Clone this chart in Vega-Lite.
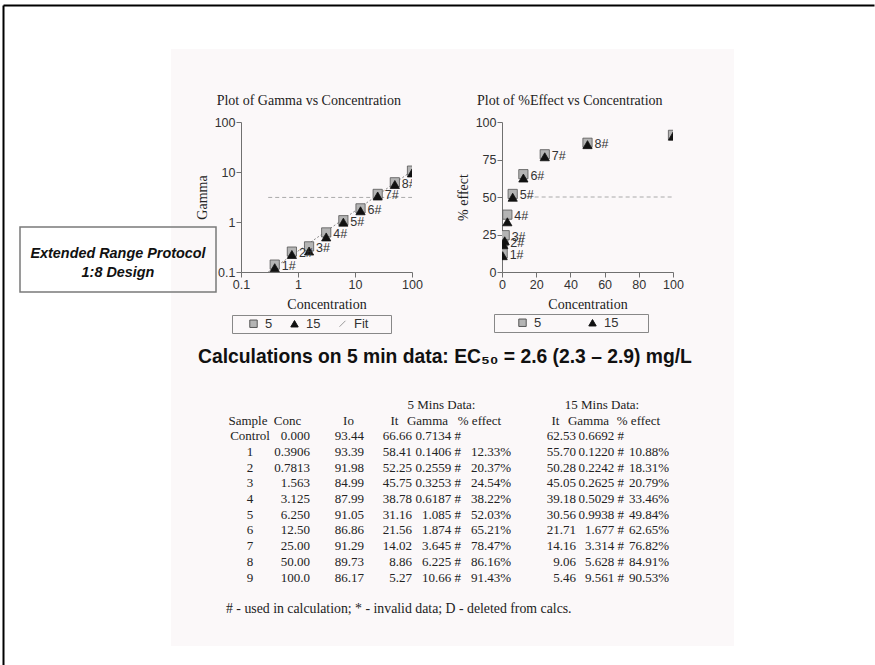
{
  "$schema": "https://vega.github.io/schema/vega-lite/v6.json",
  "background": "white",
  "padding": {"left": 3, "top": 5, "right": 0, "bottom": 0},
  "config": {
    "view": {"stroke": null},
    "font": "Liberation Serif",
    "axis": {
      "domainColor": "#707070", "tickColor": "#707070", "tickSize": 5,
      "labelFont": "Liberation Sans", "labelFontSize": 12.5, "labelColor": "#333333", "labelPadding": 1,
      "labelFlush": false, "labelOverlap": false,
      "titleFont": "Liberation Serif", "titleFontSize": 14, "titleFontWeight": "normal", "titleColor": "#222222",
      "grid": false
    },
    "legend": {"labelFont": "Liberation Sans", "labelFontSize": 13, "labelColor": "#333333"},
    "title": {"font": "Liberation Serif", "fontSize": 14, "fontWeight": "normal", "color": "#222222"}
  },
  "datasets": {
    "points": [
      {"series": "5", "conc": 0.3906, "gamma": 0.1406, "effect": 12.33, "label": "1#"},
      {"series": "5", "conc": 0.7813, "gamma": 0.2559, "effect": 20.37, "label": "2#"},
      {"series": "5", "conc": 1.563, "gamma": 0.3253, "effect": 24.54, "label": "3#"},
      {"series": "5", "conc": 3.125, "gamma": 0.6187, "effect": 38.22, "label": "4#"},
      {"series": "5", "conc": 6.25, "gamma": 1.085, "effect": 52.03, "label": "5#"},
      {"series": "5", "conc": 12.5, "gamma": 1.874, "effect": 65.21, "label": "6#"},
      {"series": "5", "conc": 25, "gamma": 3.645, "effect": 78.47, "label": "7#"},
      {"series": "5", "conc": 50, "gamma": 6.225, "effect": 86.16, "label": "8#"},
      {"series": "5", "conc": 100, "gamma": 10.66, "effect": 91.43, "label": "9#"},
      {"series": "15", "conc": 0.3906, "gamma": 0.122, "effect": 10.88, "label": ""},
      {"series": "15", "conc": 0.7813, "gamma": 0.2242, "effect": 18.31, "label": ""},
      {"series": "15", "conc": 1.563, "gamma": 0.2625, "effect": 20.79, "label": ""},
      {"series": "15", "conc": 3.125, "gamma": 0.5029, "effect": 33.46, "label": ""},
      {"series": "15", "conc": 6.25, "gamma": 0.9938, "effect": 49.84, "label": ""},
      {"series": "15", "conc": 12.5, "gamma": 1.677, "effect": 62.65, "label": ""},
      {"series": "15", "conc": 25, "gamma": 3.314, "effect": 76.82, "label": ""},
      {"series": "15", "conc": 50, "gamma": 5.628, "effect": 84.91, "label": ""},
      {"series": "15", "conc": 100, "gamma": 9.561, "effect": 90.53, "label": ""}
    ],
    "fit": [
      {"conc": 0.3, "gamma": 0.1},
      {"conc": 100, "gamma": 10.5}
    ],
    "gammaRef": [
      {"x0": 0.3, "x1": 100, "gamma": 3.1}
    ],
    "effectRef": [
      {"x0": 15, "x1": 100, "effect": 50}
    ],
    "table": [
      {"sample": "Control", "conc": "0.000", "io": "93.44", "it5": "66.66", "g5": "0.7134 #", "e5": "", "it15": "62.53", "g15": "0.6692 #", "e15": ""},
      {"sample": "1", "conc": "0.3906", "io": "93.39", "it5": "58.41", "g5": "0.1406 #", "e5": "12.33%", "it15": "55.70", "g15": "0.1220 #", "e15": "10.88%"},
      {"sample": "2", "conc": "0.7813", "io": "91.98", "it5": "52.25", "g5": "0.2559 #", "e5": "20.37%", "it15": "50.28", "g15": "0.2242 #", "e15": "18.31%"},
      {"sample": "3", "conc": "1.563", "io": "84.99", "it5": "45.75", "g5": "0.3253 #", "e5": "24.54%", "it15": "45.05", "g15": "0.2625 #", "e15": "20.79%"},
      {"sample": "4", "conc": "3.125", "io": "87.99", "it5": "38.78", "g5": "0.6187 #", "e5": "38.22%", "it15": "39.18", "g15": "0.5029 #", "e15": "33.46%"},
      {"sample": "5", "conc": "6.250", "io": "91.05", "it5": "31.16", "g5": "1.085 #", "e5": "52.03%", "it15": "30.56", "g15": "0.9938 #", "e15": "49.84%"},
      {"sample": "6", "conc": "12.50", "io": "86.86", "it5": "21.56", "g5": "1.874 #", "e5": "65.21%", "it15": "21.71", "g15": "1.677 #", "e15": "62.65%"},
      {"sample": "7", "conc": "25.00", "io": "91.29", "it5": "14.02", "g5": "3.645 #", "e5": "78.47%", "it15": "14.16", "g15": "3.314 #", "e15": "76.82%"},
      {"sample": "8", "conc": "50.00", "io": "89.73", "it5": "8.86", "g5": "6.225 #", "e5": "86.16%", "it15": "9.06", "g15": "5.628 #", "e15": "84.91%"},
      {"sample": "9", "conc": "100.0", "io": "86.17", "it5": "5.27", "g5": "10.66 #", "e5": "91.43%", "it15": "5.46", "g15": "9.561 #", "e15": "90.53%"}
    ]
  },
  "columns": 2,
  "align": "none",
  "bounds": "flush",
  "spacing": -714,
  "concat": [
    {
      "width": 563, "height": 597,
      "view": {"fill": "#fbf8f9", "stroke": null},
      "data": {"values": []},
      "mark": {"type": "point", "opacity": 0},
      "encoding": {
        "x": {"datum": 0, "type": "quantitative", "scale": {"domain": [0, 1], "range": [-168, 703], "nice": false, "zero": false},
              "axis": {"orient": "top", "offset": 44, "domainColor": "#000000", "domainWidth": 2, "ticks": false, "labels": false, "title": null}},
        "y": {"datum": 0, "type": "quantitative", "scale": {"domain": [0, 1], "range": [-44, 620], "nice": false, "zero": false},
              "axis": {"orient": "left", "offset": 168, "domainColor": "#000000", "domainWidth": 2, "ticks": false, "labels": false, "title": null}}
      }
    },
    {
      "columns": 1,
      "align": "none",
      "bounds": "flush",
      "spacing": 0,
      "concat": [
        {"width": 1, "height": 73, "data": {"values": []}, "mark": "point", "encoding": {}},
        {
          "columns": 4,
          "align": "none",
          "bounds": "flush",
          "spacing": 0,
          "resolve": {
            "scale": {"color": "independent", "shape": "independent", "stroke": "independent"},
            "legend": {"color": "independent", "shape": "independent", "stroke": "independent"}
          },
          "concat": [
            {"width": 221, "height": 1, "data": {"values": []}, "mark": "point", "encoding": {}},
            {
              "width": 171, "height": 150,
              "title": {"text": "Plot of Gamma vs Concentration", "frame": "bounds", "anchor": "middle", "offset": 8},
              "layer": [
                {
                  "data": {"name": "gammaRef"},
                  "mark": {"type": "rule", "color": "#aaaaaa", "strokeDash": [4, 3]},
                  "encoding": {
                    "x": {"field": "x0", "type": "quantitative", "scale": {"type": "log", "domain": [0.1, 100], "nice": false},
                          "axis": {"values": [0.1, 1, 10, 100], "tickCount": 20, "format": "~g", "title": "Concentration", "titlePadding": 7}},
                    "x2": {"field": "x1"},
                    "y": {"field": "gamma", "type": "quantitative", "scale": {"type": "log", "domain": [0.1, 100], "nice": false},
                          "axis": {"values": [0.1, 1, 10, 100], "tickCount": 20, "format": "~g", "title": "Gamma", "titlePadding": 5}}
                  }
                },
                {
                  "data": {"name": "fit"},
                  "mark": {"type": "line", "color": "#8a8a8a", "strokeWidth": 1, "strokeDash": [2, 2], "clip": true},
                  "encoding": {
                    "x": {"field": "conc", "type": "quantitative"},
                    "y": {"field": "gamma", "type": "quantitative"}
                  }
                },
                {
                  "data": {"name": "points"},
                  "mark": {"type": "point", "filled": true, "size": 85, "strokeWidth": 0.8, "opacity": 1, "clip": true},
                  "encoding": {
                    "x": {"field": "conc", "type": "quantitative"},
                    "y": {"field": "gamma", "type": "quantitative"},
                    "shape": {"field": "series", "type": "nominal", "scale": {"domain": ["5", "15", "Fit"], "range": ["square", "triangle-up", "M-0.8,0.8L0.8,-0.8"]},
                              "legend": {"orient": "none", "legendX": -9, "legendY": 193, "direction": "horizontal", "title": " ", "titleOrient": "left", "titlePadding": 13, "strokeColor": "#888888", "padding": 2, "columnPadding": 15, "gridAlign": "each", "symbolSize": 55, "symbolStrokeWidth": 1, "labelOffset": 5,
                                         "labelExpr": "datum.label == 'Fit' ? 'Fit\u2800\u2800' : datum.label"}},
                    "color": {"field": "series", "type": "nominal", "scale": {"domain": ["5", "15", "Fit"], "range": ["#b4b4b4", "#111111", "#ffffff"]}},
                    "stroke": {"field": "series", "type": "nominal", "scale": {"domain": ["5", "15", "Fit"], "range": ["#555555", "#111111", "#999999"]}}
                  }
                },
                {
                  "data": {"name": "points"},
                  "transform": [{"filter": "datum.series == '5'"}],
                  "mark": {"type": "text", "align": "left", "dx": 7, "dy": 1.5, "font": "Liberation Sans", "fontSize": 12.5, "color": "#333333", "clip": true},
                  "encoding": {
                    "x": {"field": "conc", "type": "quantitative"},
                    "y": {"field": "gamma", "type": "quantitative"},
                    "text": {"field": "label"}
                  }
                }
              ]
            },
            {"width": 90, "height": 1, "data": {"values": []}, "mark": "point", "encoding": {}},
            {
              "width": 171, "height": 150,
              "title": {"text": "Plot of %Effect vs Concentration", "frame": "bounds", "anchor": "middle", "offset": 8},
              "layer": [
                {
                  "data": {"name": "effectRef"},
                  "mark": {"type": "rule", "color": "#aaaaaa", "strokeDash": [4, 3]},
                  "encoding": {
                    "x": {"field": "x0", "type": "quantitative", "scale": {"domain": [0, 100], "nice": false},
                          "axis": {"values": [0, 20, 40, 60, 80, 100], "tickCount": 20, "format": "d", "title": "Concentration", "titlePadding": 7}},
                    "x2": {"field": "x1"},
                    "y": {"field": "effect", "type": "quantitative", "scale": {"domain": [0, 100], "nice": false},
                          "axis": {"values": [0, 25, 50, 75, 100], "tickCount": 20, "format": "d", "title": "% effect", "titlePadding": 5}}
                  }
                },
                {
                  "data": {"name": "points"},
                  "mark": {"type": "point", "filled": true, "size": 85, "strokeWidth": 0.8, "opacity": 1, "clip": true},
                  "encoding": {
                    "x": {"field": "conc", "type": "quantitative"},
                    "y": {"field": "effect", "type": "quantitative"},
                    "shape": {"field": "series", "type": "nominal", "scale": {"domain": ["5", "15"], "range": ["square", "triangle-up"]},
                              "legend": {"orient": "none", "legendX": -8, "legendY": 192, "direction": "horizontal", "title": " ", "titleOrient": "left", "titlePadding": 20, "strokeColor": "#888888", "padding": 2, "columnPadding": 44, "gridAlign": "each", "symbolSize": 55, "symbolStrokeWidth": 1, "labelOffset": 5,
                                         "labelExpr": "datum.label == '15' ? '15\u00a0\u00a0\u2800\u2800' : datum.label"}},
                    "color": {"field": "series", "type": "nominal", "scale": {"domain": ["5", "15"], "range": ["#b4b4b4", "#111111"]}},
                    "stroke": {"field": "series", "type": "nominal", "scale": {"domain": ["5", "15"], "range": ["#555555", "#111111"]}}
                  }
                },
                {
                  "data": {"name": "points"},
                  "transform": [{"filter": "datum.series == '5'"}],
                  "mark": {"type": "text", "align": "left", "dx": 7, "dy": 1.5, "font": "Liberation Sans", "fontSize": 12.5, "color": "#333333", "clip": true},
                  "encoding": {
                    "x": {"field": "conc", "type": "quantitative"},
                    "y": {"field": "effect", "type": "quantitative"},
                    "text": {"field": "label"}
                  }
                }
              ]
            }
          ]
        },
        {"width": 1, "height": 105, "data": {"values": []}, "mark": "point", "encoding": {}},
        {
          "width": 196, "height": 65,
          "view": {"stroke": "#7a7a7a", "strokeWidth": 1.5},
          "data": {"values": [{}]},
          "mark": {"type": "text", "text": ["Extended Range Protocol", "1:8 Design"], "font": "Liberation Sans", "fontSize": 14.4, "fontWeight": "bold", "fontStyle": "italic", "lineHeight": 19, "dy": -6, "color": "#111111"}
        },
        {"width": 1, "height": 50, "data": {"values": []}, "mark": "point", "encoding": {}},
        {
          "width": 850, "height": 30,
          "data": {"values": [{}]},
          "mark": {"type": "text", "text": "Calculations on 5 min data: EC₅₀ = 2.6 (2.3 – 2.9) mg/L", "font": "Liberation Sans", "fontSize": 19.3, "fontWeight": "bold", "color": "#111111"}
        },
        {"width": 1, "height": 25, "data": {"values": []}, "mark": "point", "encoding": {}},
        {
          "columns": 10,
          "align": "none",
          "bounds": "flush",
          "spacing": 0,
          "concat": [
            {"width": 206, "height": 1, "data": {"values": []}, "mark": "point", "encoding": {}},
            {
              "width": 48, "height": 219.8,
              "layer": [
                {"data": {"name": "table"}, "mark": {"type": "text", "font": "Liberation Serif", "fontSize": 13, "color": "#222222"},
                 "encoding": {"y": {"field": "sample", "type": "ordinal", "scale": {"type": "point", "domain": ["grp", "hdr", "Control", "1", "2", "3", "4", "5", "6", "7", "8", "9", "b1", "foot"], "padding": 0.5}, "axis": null}, "text": {"field": "sample"}}},
                {"data": {"values": [{}]}, "mark": {"type": "text", "font": "Liberation Serif", "fontSize": 13, "color": "#222222", "dx": -2, "text": "Sample"},
                 "encoding": {"y": {"datum": "hdr", "type": "ordinal"}}},
                {"data": {"values": [{}]}, "mark": {"type": "text", "font": "Liberation Serif", "fontSize": 13.8, "color": "#222222", "align": "left", "dx": -24, "text": "# - used in calculation; * - invalid data; D - deleted from calcs."},
                 "encoding": {"y": {"datum": "foot", "type": "ordinal"}}}
              ]
            },
            {
              "width": 36, "height": 219.8,
              "layer": [
                {"data": {"name": "table"}, "mark": {"type": "text", "font": "Liberation Serif", "fontSize": 13, "color": "#222222", "align": "right"},
                 "encoding": {"x": {"value": "width"}, "y": {"field": "sample", "type": "ordinal", "scale": {"type": "point", "domain": ["grp", "hdr", "Control", "1", "2", "3", "4", "5", "6", "7", "8", "9", "b1", "foot"], "padding": 0.5}, "axis": null}, "text": {"field": "conc"}}},
                {"data": {"values": [{}]}, "mark": {"type": "text", "font": "Liberation Serif", "fontSize": 13, "color": "#222222", "align": "center", "dx": -22.5, "text": "Conc"},
                 "encoding": {"x": {"value": "width"}, "y": {"datum": "hdr", "type": "ordinal"}}}
              ]
            },
            {
              "width": 54, "height": 219.8,
              "layer": [
                {"data": {"name": "table"}, "mark": {"type": "text", "font": "Liberation Serif", "fontSize": 13, "color": "#222222", "align": "right"},
                 "encoding": {"x": {"value": "width"}, "y": {"field": "sample", "type": "ordinal", "scale": {"type": "point", "domain": ["grp", "hdr", "Control", "1", "2", "3", "4", "5", "6", "7", "8", "9", "b1", "foot"], "padding": 0.5}, "axis": null}, "text": {"field": "io"}}},
                {"data": {"values": [{}]}, "mark": {"type": "text", "font": "Liberation Serif", "fontSize": 13, "color": "#222222", "align": "center", "dx": -15.5, "text": "Io"},
                 "encoding": {"x": {"value": "width"}, "y": {"datum": "hdr", "type": "ordinal"}}}
              ]
            },
            {
              "width": 48, "height": 219.8,
              "layer": [
                {"data": {"name": "table"}, "mark": {"type": "text", "font": "Liberation Serif", "fontSize": 13, "color": "#222222", "align": "right"},
                 "encoding": {"x": {"value": "width"}, "y": {"field": "sample", "type": "ordinal", "scale": {"type": "point", "domain": ["grp", "hdr", "Control", "1", "2", "3", "4", "5", "6", "7", "8", "9", "b1", "foot"], "padding": 0.5}, "axis": null}, "text": {"field": "it5"}}},
                {"data": {"values": [{}]}, "mark": {"type": "text", "font": "Liberation Serif", "fontSize": 13, "color": "#222222", "align": "center", "dx": -17.5, "text": "It"},
                 "encoding": {"x": {"value": "width"}, "y": {"datum": "hdr", "type": "ordinal"}}}
              ]
            },
            {
              "width": 49, "height": 219.8,
              "layer": [
                {"data": {"name": "table"}, "mark": {"type": "text", "font": "Liberation Serif", "fontSize": 13, "color": "#222222", "align": "right"},
                 "encoding": {"x": {"value": "width"}, "y": {"field": "sample", "type": "ordinal", "scale": {"type": "point", "domain": ["grp", "hdr", "Control", "1", "2", "3", "4", "5", "6", "7", "8", "9", "b1", "foot"], "padding": 0.5}, "axis": null}, "text": {"field": "g5"}}},
                {"data": {"values": [{}]}, "mark": {"type": "text", "font": "Liberation Serif", "fontSize": 13, "color": "#222222", "align": "center", "dx": -33.5, "text": "Gamma"},
                 "encoding": {"x": {"value": "width"}, "y": {"datum": "hdr", "type": "ordinal"}}},
                {"data": {"values": [{}]}, "mark": {"type": "text", "font": "Liberation Serif", "fontSize": 13, "color": "#222222", "align": "center", "dx": -19.5, "text": "5 Mins Data:"},
                 "encoding": {"x": {"value": "width"}, "y": {"datum": "grp", "type": "ordinal"}}}
              ]
            },
            {
              "width": 50, "height": 219.8,
              "layer": [
                {"data": {"name": "table"}, "mark": {"type": "text", "font": "Liberation Serif", "fontSize": 13, "color": "#222222", "align": "right"},
                 "encoding": {"x": {"value": "width"}, "y": {"field": "sample", "type": "ordinal", "scale": {"type": "point", "domain": ["grp", "hdr", "Control", "1", "2", "3", "4", "5", "6", "7", "8", "9", "b1", "foot"], "padding": 0.5}, "axis": null}, "text": {"field": "e5"}}},
                {"data": {"values": [{}]}, "mark": {"type": "text", "font": "Liberation Serif", "fontSize": 13, "color": "#222222", "align": "center", "dx": -31.5, "text": "% effect"},
                 "encoding": {"x": {"value": "width"}, "y": {"datum": "hdr", "type": "ordinal"}}}
              ]
            },
            {
              "width": 65, "height": 219.8,
              "layer": [
                {"data": {"name": "table"}, "mark": {"type": "text", "font": "Liberation Serif", "fontSize": 13, "color": "#222222", "align": "right"},
                 "encoding": {"x": {"value": "width"}, "y": {"field": "sample", "type": "ordinal", "scale": {"type": "point", "domain": ["grp", "hdr", "Control", "1", "2", "3", "4", "5", "6", "7", "8", "9", "b1", "foot"], "padding": 0.5}, "axis": null}, "text": {"field": "it15"}}},
                {"data": {"values": [{}]}, "mark": {"type": "text", "font": "Liberation Serif", "fontSize": 13, "color": "#222222", "align": "center", "dx": -20.5, "text": "It"},
                 "encoding": {"x": {"value": "width"}, "y": {"datum": "hdr", "type": "ordinal"}}}
              ]
            },
            {
              "width": 48, "height": 219.8,
              "layer": [
                {"data": {"name": "table"}, "mark": {"type": "text", "font": "Liberation Serif", "fontSize": 13, "color": "#222222", "align": "right"},
                 "encoding": {"x": {"value": "width"}, "y": {"field": "sample", "type": "ordinal", "scale": {"type": "point", "domain": ["grp", "hdr", "Control", "1", "2", "3", "4", "5", "6", "7", "8", "9", "b1", "foot"], "padding": 0.5}, "axis": null}, "text": {"field": "g15"}}},
                {"data": {"values": [{}]}, "mark": {"type": "text", "font": "Liberation Serif", "fontSize": 13, "color": "#222222", "align": "center", "dx": -35.5, "text": "Gamma"},
                 "encoding": {"x": {"value": "width"}, "y": {"datum": "hdr", "type": "ordinal"}}},
                {"data": {"values": [{}]}, "mark": {"type": "text", "font": "Liberation Serif", "fontSize": 13, "color": "#222222", "align": "center", "dx": -22, "text": "15 Mins Data:"},
                 "encoding": {"x": {"value": "width"}, "y": {"datum": "grp", "type": "ordinal"}}}
              ]
            },
            {
              "width": 45, "height": 219.8,
              "layer": [
                {"data": {"name": "table"}, "mark": {"type": "text", "font": "Liberation Serif", "fontSize": 13, "color": "#222222", "align": "right"},
                 "encoding": {"x": {"value": "width"}, "y": {"field": "sample", "type": "ordinal", "scale": {"type": "point", "domain": ["grp", "hdr", "Control", "1", "2", "3", "4", "5", "6", "7", "8", "9", "b1", "foot"], "padding": 0.5}, "axis": null}, "text": {"field": "e15"}}},
                {"data": {"values": [{}]}, "mark": {"type": "text", "font": "Liberation Serif", "fontSize": 13, "color": "#222222", "align": "center", "dx": -30.5, "text": "% effect"},
                 "encoding": {"x": {"value": "width"}, "y": {"datum": "hdr", "type": "ordinal"}}}
              ]
            }
          ]
        }
      ]
    }
  ]
}
